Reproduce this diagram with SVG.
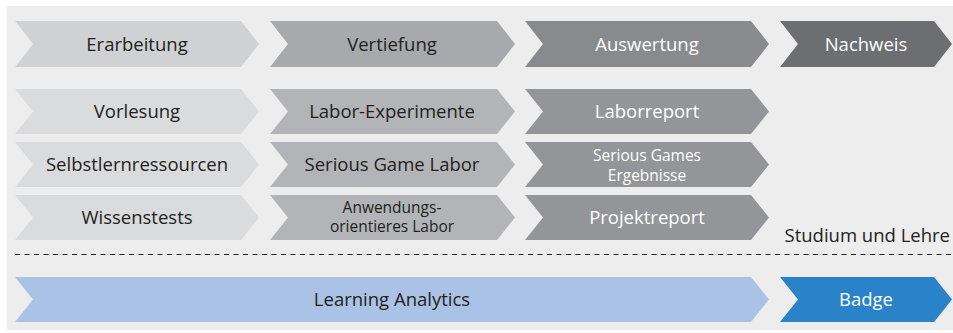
<svg xmlns="http://www.w3.org/2000/svg" width="953" height="333" viewBox="0 0 953 333">
<style>
text{font-family:"Open Sans","Liberation Sans",sans-serif;text-anchor:middle}
.t{font-size:18.5px}
.s{font-size:15.5px}
.dk{fill:#231f20}
.wh{fill:#ffffff}
.h1{fill:#d0d1d3}.h2{fill:#a7a9ac}.h3{fill:#898a8d}.h4{fill:#6d6e71}
.c1{fill:#dadbdd}.c2{fill:#b3b4b7}.c3{fill:#939598}
.la{fill:#a9c2e6}.bd{fill:#2a82c8}
</style>
<rect x="7" y="6" width="946" height="324" fill="#ededed"/>
<g id="erarbeitung"><path class="h1" d="M15,21H241L259,44L241,67H15L33,44Z"/><text class="t dk" x="137" y="50.5">Erarbeitung</text></g>
<g id="vertiefung"><path class="h2" d="M270,21H497L515,44L497,67H270L288,44Z"/><text class="t dk" x="392" y="50.5">Vertiefung</text></g>
<g id="auswertung"><path class="h3" d="M525,21H751L769,44L751,67H525L543,44Z"/><text class="t wh" x="647" y="50.5">Auswertung</text></g>
<g id="nachweis"><path class="h4" d="M780,21H934L952,44L934,67H780L798,44Z"/><text class="t wh" x="866" y="50.5">Nachweis</text></g>

<g id="vorlesung"><path class="c1" d="M15,89H241L259,111.5L241,134H15L33,111.5Z"/><text class="t dk" x="137" y="118">Vorlesung</text></g>
<g id="selbstlern"><path class="c1" d="M15,142H241L259,164.5L241,187H15L33,164.5Z"/><text class="t dk" x="137" y="171">Selbstlernressourcen</text></g>
<g id="wissenstests"><path class="c1" d="M15,195H241L259,217.5L241,240H15L33,217.5Z"/><text class="t dk" x="137" y="224">Wissenstests</text></g>

<g id="labor-experimente"><path class="c2" d="M270,89H497L515,111.5L497,134H270L288,111.5Z"/><text class="t dk" x="392" y="118">Labor-Experimente</text></g>
<g id="serious-game-labor"><path class="c2" d="M270,142H497L515,164.5L497,187H270L288,164.5Z"/><text class="t dk" x="392" y="171">Serious Game Labor</text></g>
<g id="anwendungs"><path class="c2" d="M270,195H497L515,217.5L497,240H270L288,217.5Z"/><text class="s dk" x="392" y="212.5">Anwendungs-</text><text class="s dk" x="392" y="232">orientieres Labor</text></g>

<g id="laborreport"><path class="c3" d="M525,89H751L769,111.5L751,134H525L543,111.5Z"/><text class="t wh" x="647" y="118">Laborreport</text></g>
<g id="serious-games-ergebnisse"><path class="c3" d="M525,142H751L769,164.5L751,187H525L543,164.5Z"/><text class="s wh" x="647" y="161">Serious Games</text><text class="s wh" x="647" y="180.5">Ergebnisse</text></g>
<g id="projektreport"><path class="c3" d="M525,195H751L769,217.5L751,240H525L543,217.5Z"/><text class="t wh" x="647" y="224">Projektreport</text></g>

<g id="studium"><text class="t dk" x="950" y="242" style="text-anchor:end">Studium und Lehre</text></g>
<g id="connectors"><line x1="15" y1="254.5" x2="951" y2="254.5" stroke="#231f20" stroke-width="1.2" stroke-dasharray="5,4.5"/></g>

<g id="learning-analytics"><path class="la" d="M15,277H751L769,299.5L751,322H15L33,299.5Z"/><text class="t dk" x="392" y="306">Learning Analytics</text></g>
<g id="badge"><path class="bd" d="M780,277H934L952,299.5L934,322H780L798,299.5Z"/><text class="t wh" x="866" y="306">Badge</text></g>
</svg>
